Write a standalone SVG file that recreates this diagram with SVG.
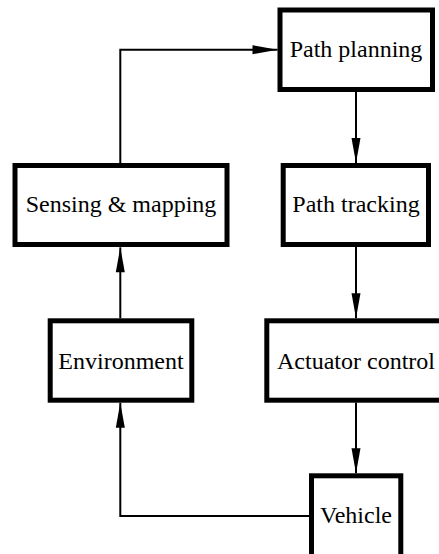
<svg xmlns="http://www.w3.org/2000/svg" width="439" height="554" viewBox="0 0 439 554">
<style>
.box{fill:#fff;stroke:#000;stroke-width:5}
.lbl{font-family:'Liberation Serif','Times New Roman','DejaVu Serif',serif;font-size:24px;fill:#000;text-anchor:middle}
.edge{fill:none;stroke:#000;stroke-width:2;marker-end:url(#ah)}
</style>
<defs>
<marker id="ah" markerUnits="userSpaceOnUse" markerWidth="25" markerHeight="9" refX="25" refY="4.5" orient="auto" overflow="visible">
<path d="M0,0 L25,4.5 L0,9 Z" fill="#000"/>
</marker>
</defs>
<rect width="439" height="554" fill="#fff"/>
<g id="connectors">
<path class="edge" d="M120.3,163 V49.7 H277.5"/>
<path class="edge" d="M356,92 V163"/>
<path class="edge" d="M356,247 V318.3"/>
<path class="edge" d="M356,402.5 V473.3"/>
<path class="edge" d="M309,516 H120.3 V402.7"/>
<path class="edge" d="M120.3,318.3 V247.3"/>
</g>
<g id="path-planning">
<rect class="box" x="280" y="10" width="152.5" height="79.5"/>
<text class="lbl" x="356" y="57" font-family="Liberation Serif, serif">Path planning</text>
</g>
<g id="sensing-mapping">
<rect class="box" x="15" y="165.5" width="212" height="79"/>
<text class="lbl" x="121" y="212" font-family="Liberation Serif, serif">Sensing &amp; mapping</text>
</g>
<g id="path-tracking">
<rect class="box" x="283.2" y="165.5" width="145.3" height="79"/>
<text class="lbl" x="356" y="212" font-family="Liberation Serif, serif">Path tracking</text>
</g>
<g id="environment">
<rect class="box" x="50.2" y="320.8" width="141.6" height="79.4"/>
<text class="lbl" x="121" y="369" font-family="Liberation Serif, serif">Environment</text>
</g>
<g id="actuator-control">
<rect class="box" x="266.8" y="320.8" width="178" height="79.4"/>
<text class="lbl" x="356" y="369" font-family="Liberation Serif, serif">Actuator control</text>
</g>
<g id="vehicle">
<rect class="box" x="311.5" y="475.8" width="89.3" height="90"/>
<text class="lbl" x="356" y="523" font-family="Liberation Serif, serif">Vehicle</text>
</g>
</svg>
